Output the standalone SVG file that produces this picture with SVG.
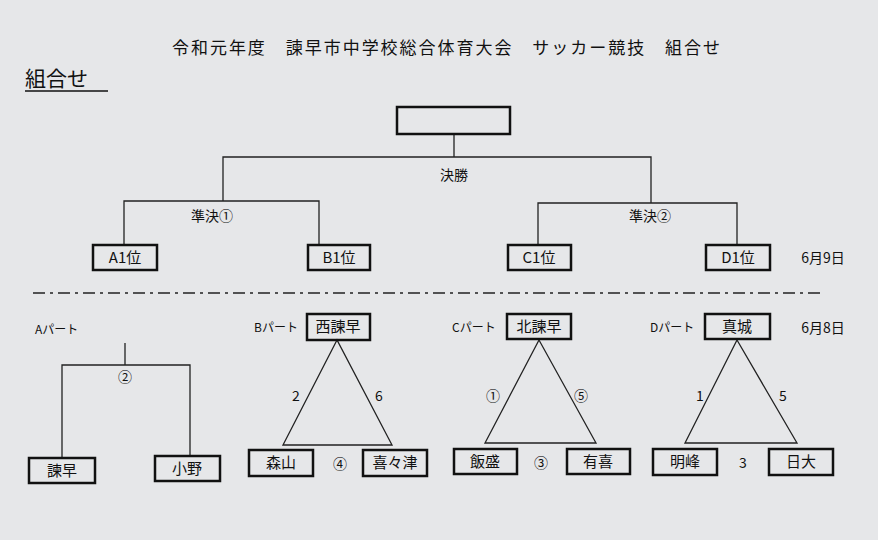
<svg xmlns="http://www.w3.org/2000/svg" width="878" height="540" viewBox="0 0 878 540">
<style>
text{font-family:"Noto Sans CJK JP","Liberation Sans",sans-serif;fill:#111}
.b rect{fill:none;stroke:#111;stroke-width:2.5}
.b text{font-size:15px;text-anchor:middle}
.l{fill:none;stroke:#222;stroke-width:1.3}
.s{font-size:14px;text-anchor:middle}
.p{font-size:12px}
</style>
<rect width="878" height="540" fill="#e6e7e9"/>
<text x="172" y="54" font-size="17" textLength="548" lengthAdjust="spacing">令和元年度　諫早市中学校総合体育大会　サッカー競技　組合せ</text>
<text x="25" y="86" font-size="21">組合せ</text>
<line x1="25" y1="91" x2="108" y2="91" stroke="#111" stroke-width="1.5"/>
<g id="connectors" class="l">
<path d="M454 134V157M223 201V157H651V203M124 245V201H319V245M538 245V203H737V245"/>
<path d="M125 343V365M62 458V365H190V456"/>
<path d="M337 340L283 445H392Z"/>
<path d="M539 340L485 443H596Z"/>
<path d="M737 340L685 443H797Z"/>
<line x1="33" y1="293" x2="825" y2="293" stroke-dasharray="12,5,3,5"/>
</g>
<g id="labels">
<text class="s" x="454" y="180">決勝</text>
<text class="s" x="212" y="221">準決①</text>
<text class="s" x="650" y="221">準決②</text>
<text class="s" x="823" y="263">6月9日</text>
<text class="s" x="823" y="333">6月8日</text>
<text class="p" x="35" y="334">Aパート</text>
<text class="p" x="254" y="332">Bパート</text>
<text class="p" x="452" y="332">Cパート</text>
<text class="p" x="650" y="332">Dパート</text>
<text class="s" x="125" y="382">②</text>
<text class="s" x="296" y="401">2</text>
<text class="s" x="379" y="401">6</text>
<text class="s" x="340" y="469">④</text>
<text class="s" x="493" y="401">①</text>
<text class="s" x="581" y="401">⑤</text>
<text class="s" x="541" y="468">③</text>
<text class="s" x="700" y="401">1</text>
<text class="s" x="783" y="401">5</text>
<text class="s" x="743" y="468">3</text>
</g>
<g id="final" class="b"><rect x="397" y="107" width="113" height="27"/></g>
<g id="A1" class="b"><rect x="93" y="245" width="64" height="25"/><text x="125" y="263">A1位</text></g>
<g id="B1" class="b"><rect x="308" y="245" width="62" height="25"/><text x="339" y="263">B1位</text></g>
<g id="C1" class="b"><rect x="508" y="245" width="63" height="25"/><text x="539" y="263">C1位</text></g>
<g id="D1" class="b"><rect x="706" y="245" width="64" height="25"/><text x="738" y="263">D1位</text></g>
<g id="isahaya" class="b"><rect x="29" y="458" width="66" height="25"/><text x="62" y="476">諫早</text></g>
<g id="ono" class="b"><rect x="155" y="456" width="65" height="25"/><text x="187" y="474">小野</text></g>
<g id="nishiisahaya" class="b"><rect x="307" y="314" width="63" height="26"/><text x="338" y="332">西諫早</text></g>
<g id="moriyama" class="b"><rect x="249" y="450" width="64" height="26"/><text x="281" y="468">森山</text></g>
<g id="kikitsu" class="b"><rect x="363" y="450" width="64" height="26"/><text x="395" y="468">喜々津</text></g>
<g id="kitaisahaya" class="b"><rect x="507" y="314" width="64" height="25"/><text x="539" y="332">北諫早</text></g>
<g id="iimori" class="b"><rect x="454" y="449" width="63" height="25"/><text x="485" y="467">飯盛</text></g>
<g id="yuki" class="b"><rect x="567" y="449" width="63" height="25"/><text x="598" y="467">有喜</text></g>
<g id="shinjo" class="b"><rect x="705" y="314" width="65" height="25"/><text x="737" y="332">真城</text></g>
<g id="meiho" class="b"><rect x="653" y="449" width="64" height="26"/><text x="685" y="467">明峰</text></g>
<g id="nichidai" class="b"><rect x="769" y="449" width="64" height="26"/><text x="801" y="467">日大</text></g>
</svg>
